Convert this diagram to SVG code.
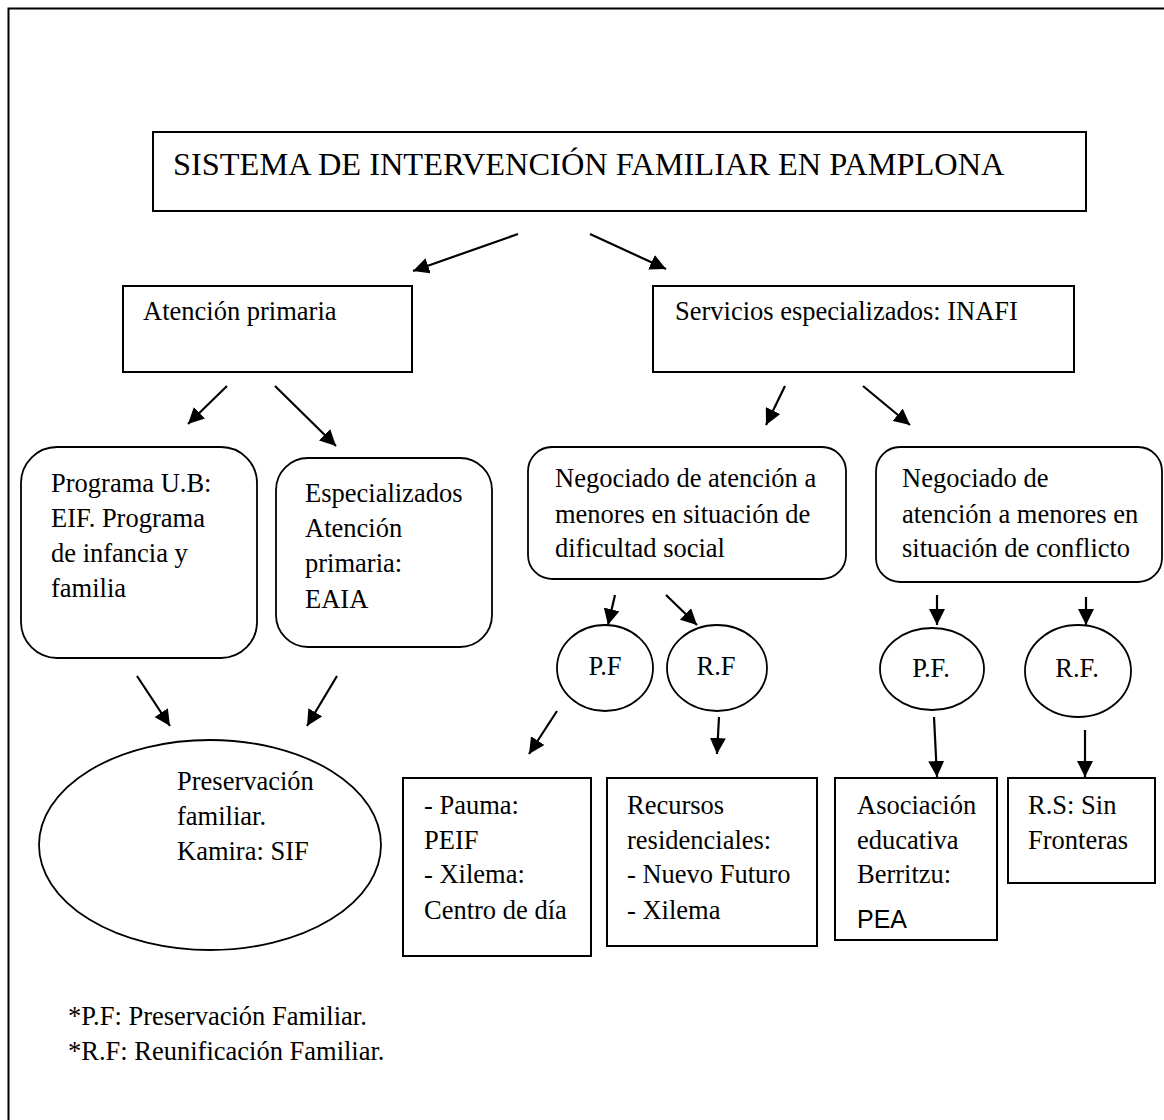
<svg xmlns="http://www.w3.org/2000/svg" width="1164" height="1120" viewBox="0 0 1164 1120">
<style>
.box{fill:#fff;stroke:#000;stroke-width:2}
.rbox{fill:#fff;stroke:#000;stroke-width:1.8}
.t{font-family:"Liberation Serif","Times New Roman",serif;font-size:26.5px;fill:#000}
.ttl{font-family:"Liberation Serif","Times New Roman",serif;font-size:32.4px;fill:#000}
.s{font-family:"Liberation Sans",Arial,sans-serif;font-size:25px;fill:#000}
.c{fill:none;stroke:#000;stroke-width:2.2}
</style>
<defs>
<marker id="ah" markerUnits="userSpaceOnUse" markerWidth="17" markerHeight="16" refX="16" refY="8" orient="auto">
<path d="M0,0 L16,8 L0,16 z" fill="#000"/>
</marker>
</defs>
<rect x="8.5" y="8.5" width="1400" height="1400" fill="none" stroke="#000" stroke-width="2"/>

<g id="title"><rect class="box" x="153" y="132" width="933" height="79"/><text class="ttl" x="173" y="175">SISTEMA DE INTERVENCIÓN FAMILIAR EN PAMPLONA</text></g>

<g id="atencion"><rect class="box" x="123" y="286" width="289" height="86"/><text class="t" x="143" y="320">Atención primaria</text></g>
<g id="servicios"><rect class="box" x="653" y="286" width="421" height="86"/><text class="t" x="675" y="320">Servicios especializados: INAFI</text></g>

<g id="programa"><rect class="rbox" x="21" y="447" width="236" height="211" rx="36"/>
<text class="t"><tspan x="51" y="492">Programa U.B:</tspan><tspan x="51" y="527">EIF. Programa</tspan><tspan x="51" y="562">de infancia y</tspan><tspan x="51" y="597">familia</tspan></text></g>
<g id="especializados"><rect class="rbox" x="276" y="458" width="216" height="189" rx="32"/>
<text class="t"><tspan x="305" y="502">Especializados</tspan><tspan x="305" y="537">Atención</tspan><tspan x="305" y="572">primaria:</tspan><tspan x="305" y="608">EAIA</tspan></text></g>

<g id="neg-dificultad"><rect class="rbox" x="528" y="447" width="318" height="132" rx="24"/>
<text class="t"><tspan x="555" y="487">Negociado de atención a</tspan><tspan x="555" y="523">menores en situación de</tspan><tspan x="555" y="557">dificultad social</tspan></text></g>
<g id="neg-conflicto"><rect class="rbox" x="876" y="447" width="286" height="135" rx="24"/>
<text class="t"><tspan x="902" y="487">Negociado de</tspan><tspan x="902" y="523">atención a menores en</tspan><tspan x="902" y="557">situación de conflicto</tspan></text></g>

<g id="pf1"><ellipse class="rbox" cx="605" cy="668" rx="48" ry="43"/><text class="t" x="605" y="675" text-anchor="middle">P.F</text></g>
<g id="rf1"><ellipse class="rbox" cx="717" cy="668" rx="50" ry="43"/><text class="t" x="716" y="675" text-anchor="middle">R.F</text></g>
<g id="pf2"><ellipse class="rbox" cx="932" cy="669" rx="52" ry="41"/><text class="t" x="931" y="677" text-anchor="middle">P.F.</text></g>
<g id="rf2"><ellipse class="rbox" cx="1078" cy="671" rx="53" ry="46"/><text class="t" x="1077" y="677" text-anchor="middle">R.F.</text></g>

<g id="preservacion"><ellipse class="rbox" cx="210" cy="845" rx="171" ry="105"/>
<text class="t"><tspan x="177" y="790">Preservación</tspan><tspan x="177" y="825">familiar.</tspan><tspan x="177" y="860">Kamira: SIF</tspan></text></g>

<g id="pauma"><rect class="box" x="403" y="778" width="188" height="178"/>
<text class="t"><tspan x="424" y="814">- Pauma:</tspan><tspan x="424" y="849">PEIF</tspan><tspan x="424" y="883">- Xilema:</tspan><tspan x="424" y="919">Centro de día</tspan></text></g>
<g id="recursos"><rect class="box" x="607" y="778" width="210" height="168"/>
<text class="t"><tspan x="627" y="814">Recursos</tspan><tspan x="627" y="849">residenciales:</tspan><tspan x="627" y="883">- Nuevo Futuro</tspan><tspan x="627" y="919">- Xilema</tspan></text></g>
<g id="asociacion"><rect class="box" x="835" y="778" width="162" height="162"/>
<text class="t"><tspan x="857" y="814">Asociación</tspan><tspan x="857" y="849">educativa</tspan><tspan x="857" y="883">Berritzu:</tspan></text><text class="s" x="857" y="928">PEA</text></g>
<g id="rs"><rect class="box" x="1008" y="778" width="147" height="105"/>
<text class="t"><tspan x="1028" y="814">R.S: Sin</tspan><tspan x="1028" y="849">Fronteras</tspan></text></g>

<g id="connectors">
<line class="c" x1="518" y1="234" x2="413" y2="271" marker-end="url(#ah)"/>
<line class="c" x1="590" y1="234" x2="666" y2="269" marker-end="url(#ah)"/>
<line class="c" x1="227" y1="386" x2="188" y2="424" marker-end="url(#ah)"/>
<line class="c" x1="275" y1="386" x2="336" y2="446" marker-end="url(#ah)"/>
<line class="c" x1="785" y1="386" x2="766" y2="425" marker-end="url(#ah)"/>
<line class="c" x1="863" y1="386" x2="910" y2="425" marker-end="url(#ah)"/>
<line class="c" x1="615" y1="595" x2="608" y2="625" marker-end="url(#ah)"/>
<line class="c" x1="666" y1="595" x2="697" y2="625" marker-end="url(#ah)"/>
<line class="c" x1="937" y1="595" x2="937" y2="625" marker-end="url(#ah)"/>
<line class="c" x1="1086" y1="597" x2="1086" y2="625" marker-end="url(#ah)"/>
<line class="c" x1="137" y1="676" x2="170" y2="726" marker-end="url(#ah)"/>
<line class="c" x1="337" y1="676" x2="307" y2="726" marker-end="url(#ah)"/>
<line class="c" x1="557" y1="711" x2="529" y2="754" marker-end="url(#ah)"/>
<line class="c" x1="719" y1="717" x2="717" y2="754" marker-end="url(#ah)"/>
<line class="c" x1="934" y1="717" x2="937" y2="777" marker-end="url(#ah)"/>
<line class="c" x1="1085" y1="730" x2="1085" y2="777" marker-end="url(#ah)"/>
</g>

<g id="notes"><text class="t"><tspan x="68" y="1025">*P.F: Preservación Familiar.</tspan><tspan x="68" y="1060">*R.F: Reunificación Familiar.</tspan></text></g>
</svg>
